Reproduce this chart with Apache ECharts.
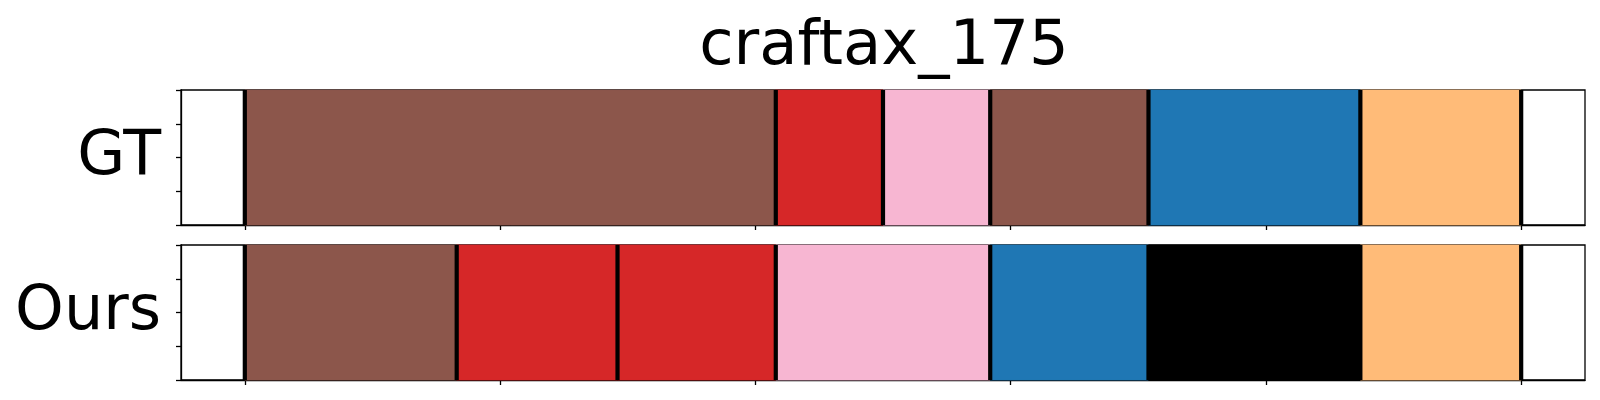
<!DOCTYPE html>
<html>
<head>
<meta charset="utf-8">
<script src="https://cdn.jsdelivr.net/npm/echarts@6/dist/echarts.min.js"></script>
<style>html,body{margin:0;padding:0;background:#fff}#c{width:1600px;height:400px}</style>
</head>
<body>
<div id="c"></div>
<script>
// ---- data ----
const title = 'craftax_175';
const rowNames = ['GT', 'Ours'];
const gtBounds = [0, 208, 250, 292, 354, 437, 500];
const gtActions = ['brown', 'red', 'pink', 'brown', 'blue', 'orange'];
const oursBounds = [0, 83, 146, 208, 292, 354, 437, 500];
const oursActions = ['brown', 'red', 'red', 'pink', 'blue', 'black', 'orange'];
const xTicks = [0, 100, 200, 300, 400, 500];
const palette = {
  brown: '#8c564b', red: '#d62728', pink: '#f7b6d2',
  blue: '#1f77b4', orange: '#ffbb78', black: '#000000'
};

function segData(bounds, actions) {
  const out = [];
  for (let i = 0; i < actions.length; i++) out.push([bounds[i], bounds[i + 1], actions[i]]);
  return out;
}

const grids = [
  { left: 181, right: 15, top: 90, height: 135 },
  { left: 181, right: 15, top: 245, height: 135 }
];

function xAxisFor(i) {
  return {
    type: 'value', gridIndex: i, min: -25, max: 525,
    splitLine: { show: false },
    axisLine: { show: true, onZero: false, lineStyle: { color: '#000', width: 1.3 } },
    axisTick: { show: true, inside: false, length: 5, lineStyle: { color: '#000', width: 1.3 }, customValues: xTicks },
    axisLabel: { show: false, customValues: xTicks }
  };
}
function yAxisFor(i) {
  return {
    type: 'value', gridIndex: i, min: 0, max: 4, interval: 1,
    splitLine: { show: false },
    axisLine: { show: true, onZero: false, lineStyle: { color: '#000', width: 1.3 } },
    axisTick: { show: true, inside: false, length: 5, lineStyle: { color: '#000', width: 1.3 } },
    axisLabel: { show: false }
  };
}

function segSeries(i, bounds, actions) {
  return {
    type: 'custom', xAxisIndex: i, yAxisIndex: i,
    data: segData(bounds, actions),
    encode: { x: [0, 1] },
    renderItem: function (params, api) {
      const p0 = api.coord([api.value(0), 4]);
      const p1 = api.coord([api.value(1), 0]);
      const c = palette[actions[params.dataIndex]];
      return {
        type: 'rect',
        shape: { x: p0[0], y: p0[1], width: p1[0] - p0[0], height: p1[1] - p0[1] },
        style: { fill: c, stroke: c, lineWidth: 0.8 }
      };
    },
    z: 2, silent: true
  };
}
function lineSeries(i, bounds) {
  return {
    type: 'custom', xAxisIndex: i, yAxisIndex: i,
    data: bounds.map(b => [b]),
    encode: { x: 0 },
    renderItem: function (params, api) {
      const t = api.coord([api.value(0), 4]);
      const b = api.coord([api.value(0), 0]);
      return {
        type: 'line',
        shape: { x1: t[0], y1: t[1], x2: b[0], y2: b[1] },
        style: { stroke: '#000', lineWidth: 4.2 }
      };
    },
    z: 3, silent: true
  };
}

const chart = echarts.init(document.getElementById('c'), null, { renderer: 'canvas' });
chart.setOption({
  animation: false,
  backgroundColor: '#fff',
  textStyle: { fontFamily: 'DejaVu Sans' },
  grid: grids.map(g => Object.assign({ show: true, borderColor: '#000', borderWidth: 1.3, backgroundColor: 'transparent' }, g)),
  xAxis: [xAxisFor(0), xAxisFor(1)],
  yAxis: [yAxisFor(0), yAxisFor(1)],
  title: {
    text: title, left: 879, top: 11, textAlign: 'center',
    textStyle: { fontFamily: 'DejaVu Sans', fontSize: 62.5, fontWeight: 'normal', color: '#000' }
  },
  graphic: [
    { type: 'text', right: 1600 - 161, top: 127, style: { text: rowNames[0], font: '62px "DejaVu Sans"', fill: '#000' } },
    { type: 'text', right: 1600 - 161, top: 282, style: { text: rowNames[1], font: '62px "DejaVu Sans"', fill: '#000' } }
  ],
  series: [
    segSeries(0, gtBounds, gtActions), lineSeries(0, gtBounds),
    segSeries(1, oursBounds, oursActions), lineSeries(1, oursBounds)
  ]
});
</script>
</body>
</html>
